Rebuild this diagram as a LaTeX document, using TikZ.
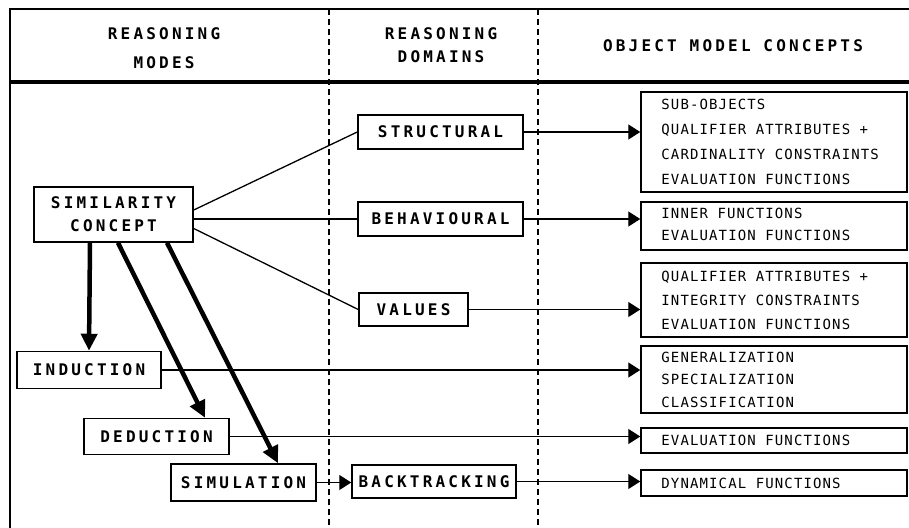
\documentclass[tikz,border=0pt]{standalone}
\usepackage{fontspec}
\usetikzlibrary{arrows.meta}
\newfontfamily\lblfont[LetterSpace=20]{DejaVu Sans Mono Bold}
\newfontfamily\rfont[LetterSpace=8]{DejaVu Sans Mono}
\tikzset{
  lbl/.style={draw, line width=1.5pt, fill=white, font=\lblfont\fontsize{16}{23}\selectfont, align=center, inner sep=0pt},
  hdr/.style={font=\lblfont\fontsize{16}{23}\selectfont, align=center, inner sep=0pt},
  rbox/.style={draw, line width=1.5pt, fill=white, minimum width=266pt, inner sep=0pt},
  rtext/.style={font=\rfont\fontsize{14}{24}\selectfont, align=left, inner sep=0pt, anchor=west},
  thinline/.style={line width=1.3pt},
  tip/.style={-{Triangle[length=12pt,width=15pt]}},
  modearrow/.style={line width=4.5pt, -{Triangle[length=17pt,width=16pt]}},
  divider/.style={line width=1.2pt, dash pattern=on 6pt off 4pt}
}
\begin{document}
\begin{tikzpicture}[x=1pt,y=-1pt]
\useasboundingbox (0,0) rectangle (909,527);
% frame and header
\draw[line width=1.3pt] (912,9) -- (10,9) -- (10,530);
\draw[divider] (329,9) -- (329,527);
\draw[divider] (538,9) -- (538,527);
\draw[line width=3.5pt] (10,82) -- (912,82);
\node[hdr] (h1) at (164,48.5) {REASONING\\[6pt]MODES};
\node[hdr] (h2) at (441,45.5) {REASONING\\DOMAINS};
\node[hdr] (h3) at (733,46) {OBJECT MODEL CONCEPTS};
% left/middle nodes
\node[lbl, minimum width=159pt, minimum height=55pt] (sim) at (113.5,214.5) {SIMILARITY\\CONCEPT};
\node[lbl, minimum width=165pt, minimum height=34pt] (struct) at (440.5,132) {STRUCTURAL};
\node[lbl, minimum width=165pt, minimum height=34pt] (behav) at (440.5,219) {BEHAVIOURAL};
\node[lbl, minimum width=109pt, minimum height=33pt] (values) at (413.5,309.5) {VALUES};
\node[lbl, minimum width=144pt, minimum height=37pt] (induction) at (89,370) {INDUCTION};
\node[lbl, minimum width=145pt, minimum height=36pt] (deduction) at (156.5,436.5) {DEDUCTION};
\node[lbl, minimum width=145pt, minimum height=37pt] (simulation) at (243.5,482.5) {SIMULATION};
\node[lbl, minimum width=164pt, minimum height=33pt] (backtracking) at (434,481.5) {BACKTRACKING};
% right boxes
\node[rbox, minimum height=100pt] (b1) at (774,142) {};
\node[rbox, minimum height=48pt] (b2) at (774,226) {};
\node[rbox, minimum height=74pt] (b3) at (774,300) {};
\node[rbox, minimum height=67pt] (b4) at (774,379.5) {};
\node[rbox, minimum height=25pt] (b5) at (774,440.5) {};
\node[rbox, minimum height=26pt] (b6) at (774,483) {};
\node[rtext, font=\rfont\fontsize{14}{25}\selectfont] (t1) at ([xshift=21pt]b1.west) {SUB-OBJECTS\\QUALIFIER ATTRIBUTES +\\CARDINALITY CONSTRAINTS\\EVALUATION FUNCTIONS};
\node[rtext, font=\rfont\fontsize{14}{22}\selectfont] (t2) at ([xshift=21pt,yshift=2pt]b2.west) {INNER FUNCTIONS\\EVALUATION FUNCTIONS};
\node[rtext, font=\rfont\fontsize{14}{24}\selectfont] (t3) at ([xshift=21pt]b3.west) {QUALIFIER ATTRIBUTES +\\INTEGRITY CONSTRAINTS\\EVALUATION FUNCTIONS};
\node[rtext, font=\rfont\fontsize{14}{22.5}\selectfont] (t4) at ([xshift=21pt]b4.west) {GENERALIZATION\\SPECIALIZATION\\CLASSIFICATION};
\node[rtext] (t5) at ([xshift=21pt]b5.west) {EVALUATION FUNCTIONS};
\node[rtext] (t6) at ([xshift=21pt]b6.west) {DYNAMICAL FUNCTIONS};
% connectors from similarity concept to domains
\draw[thinline] ([yshift=4.5pt]sim.east) -- (struct.west);
\draw[thinline] (sim.east |- behav.west) -- (behav.west);
\draw[thinline] ([yshift=-14pt]sim.east) -- (values.west);
% mode arrows
\draw[modearrow] ([xshift=-23.5pt]sim.south) -- (induction.north);
\draw[modearrow] ([xshift=4.5pt]sim.south) -- ([xshift=48.5pt]deduction.north);
\draw[modearrow] ([xshift=53.5pt]sim.south) -- ([xshift=34.5pt]simulation.north);
% arrows to object model concepts
\draw[thinline, tip] (struct.east) -- (struct.east -| b1.west);
\draw[thinline, tip] (behav.east) -- (behav.east -| b2.west);
\draw[thinline, tip] (values.east) -- (values.east -| b3.west);
\draw[thinline, tip] (induction.east) -- (induction.east -| b4.west);
\draw[thinline, tip] (deduction.east) -- (deduction.east -| b5.west);
\draw[thinline, tip] (simulation.east) -- (simulation.east -| backtracking.west);
\draw[thinline, tip] (backtracking.east) -- (backtracking.east -| b6.west);
\end{tikzpicture}
\end{document}
